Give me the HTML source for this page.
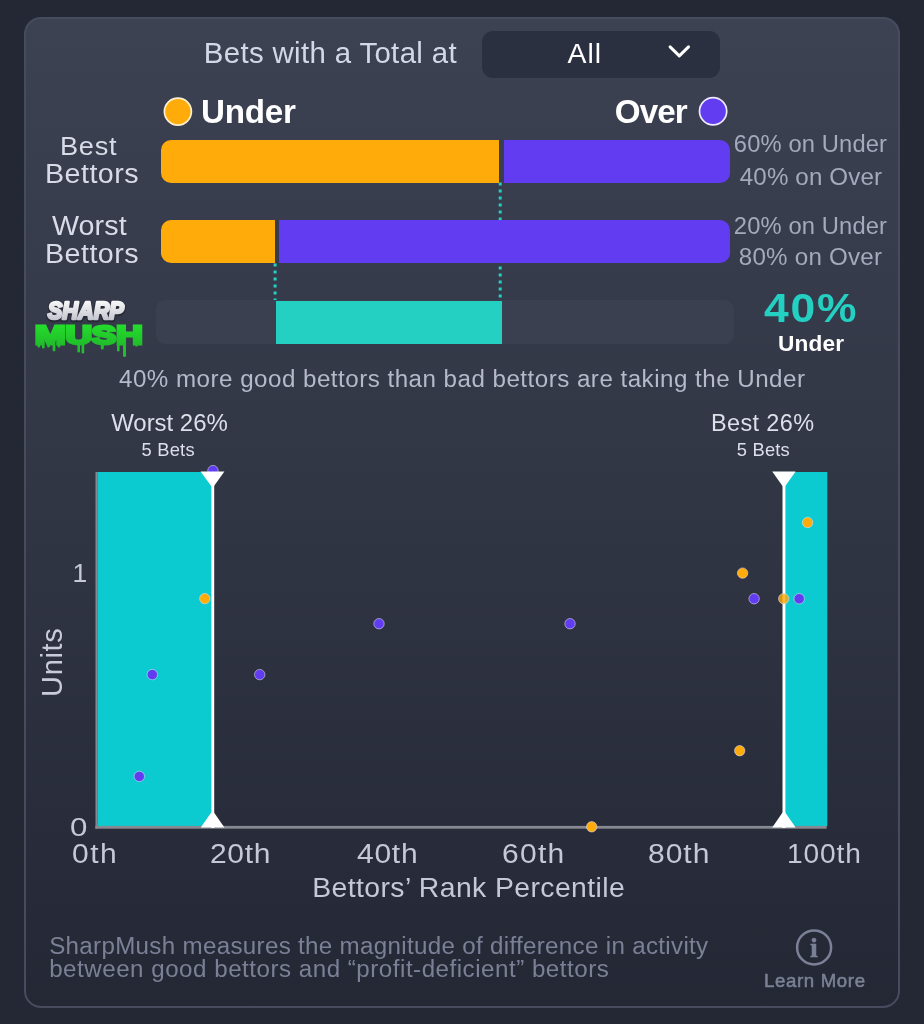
<!DOCTYPE html>
<html lang="en"><head><meta charset="utf-8"><title>SharpMush</title>
<style>
html,body{margin:0;padding:0}
body{width:924px;height:1024px;background:#242835;position:relative;overflow:hidden;font-family:"Liberation Sans",sans-serif}
.card{position:absolute;left:24px;top:17px;width:876px;height:991px;box-sizing:border-box;border:2px solid #464b5e;border-radius:17px;background:linear-gradient(180deg,#3d4253 0%,#242835 100%)}
.t{position:absolute;white-space:nowrap;margin:0}
.abs{position:absolute}
.dd{left:482px;top:31px;width:238px;height:47px;border-radius:11px;background:#2b3040}
.units{left:38px;top:696.5px;width:0;height:0;font-size:29px;line-height:29px;letter-spacing:0.7px;color:#c9ccd8;white-space:nowrap}
.units{transform:rotate(-90deg);transform-origin:0 0}
#t_lm{-webkit-text-stroke:0.55px #7b8096}

#t_head{left:203.80px;top:38.01px;font-size:29.4px;line-height:29.4px;color:#d4d7e6;font-weight:400;letter-spacing:0.350px}
#t_all{left:567.60px;top:38.63px;font-size:28.43px;line-height:28.43px;color:#ffffff;font-weight:400;letter-spacing:0.903px}
#t_under{left:201.00px;top:94.90px;font-size:33.2px;line-height:33.2px;color:#ffffff;font-weight:700;letter-spacing:-0.223px}
#t_over{left:614.80px;top:94.80px;font-size:33.2px;line-height:33.2px;color:#ffffff;font-weight:700;letter-spacing:-0.885px}
#t_best1{left:59.80px;top:133.36px;font-size:26.39px;line-height:26.39px;color:#d9dbe8;font-weight:400;letter-spacing:0.723px;transform:scaleX(1.03);transform-origin:0 0}
#t_best2{left:44.60px;top:160.19px;font-size:27.3px;line-height:27.3px;color:#d9dbe8;font-weight:400;letter-spacing:0.443px;transform:scaleX(1.05);transform-origin:0 0}
#t_worst1{left:52.00px;top:212.19px;font-size:27.3px;line-height:27.3px;color:#d9dbe8;font-weight:400;letter-spacing:0.067px;transform:scaleX(1.05);transform-origin:0 0}
#t_worst2{left:44.60px;top:240.39px;font-size:27.3px;line-height:27.3px;color:#d9dbe8;font-weight:400;letter-spacing:0.443px;transform:scaleX(1.05);transform-origin:0 0}
#t_r1{left:733.80px;top:133.30px;font-size:23.74px;line-height:23.74px;color:#a4a9bb;font-weight:400;letter-spacing:0.132px}
#t_r2{left:739.80px;top:165.26px;font-size:24.15px;line-height:24.15px;color:#a4a9bb;font-weight:400;letter-spacing:0.129px}
#t_r3{left:733.80px;top:215.40px;font-size:23.74px;line-height:23.74px;color:#a4a9bb;font-weight:400;letter-spacing:0.132px}
#t_r4{left:738.80px;top:244.86px;font-size:24.15px;line-height:24.15px;color:#a4a9bb;font-weight:400;letter-spacing:0.229px}
#t_pct{left:764.00px;top:287.60px;font-size:40.4px;line-height:40.4px;color:#23d0c2;font-weight:700;letter-spacing:1.578px;transform:scaleX(1.1);transform-origin:0 0}
#t_pctu{left:778.00px;top:331.51px;font-size:22.67px;line-height:22.67px;color:#ffffff;font-weight:700;letter-spacing:0.133px}
#t_cap{left:119.00px;top:367.36px;font-size:24.15px;line-height:24.15px;color:#b5b9c9;font-weight:400;letter-spacing:0.490px}
#t_w26{left:111.20px;top:411.09px;font-size:23.99px;line-height:23.99px;color:#dddfea;font-weight:400;letter-spacing:-0.032px}
#t_w5{left:141.60px;top:441.48px;font-size:18.34px;line-height:18.34px;color:#dddfea;font-weight:400;letter-spacing:0.206px}
#t_b26{left:711.00px;top:411.62px;font-size:23.48px;line-height:23.48px;color:#dddfea;font-weight:400;letter-spacing:0.364px}
#t_b5{left:736.80px;top:441.08px;font-size:18.34px;line-height:18.34px;color:#dddfea;font-weight:400;letter-spacing:0.206px}
#t_y1{left:72.40px;top:560.37px;font-size:26.5px;line-height:26.5px;color:#c5c8d5;font-weight:400;letter-spacing:0.000px}
#t_y0{left:69.60px;top:814.07px;font-size:26.5px;line-height:26.5px;color:#c5c8d5;font-weight:400;letter-spacing:0.000px;transform:scaleX(1.18);transform-origin:0 0}
#t_x0{left:72.20px;top:840.49px;font-size:27.3px;line-height:27.3px;color:#c5c8d5;font-weight:400;letter-spacing:1.387px;transform:scaleX(1.1);transform-origin:0 0}
#t_x20{left:210.20px;top:840.49px;font-size:27.3px;line-height:27.3px;color:#c5c8d5;font-weight:400;letter-spacing:0.589px;transform:scaleX(1.1);transform-origin:0 0}
#t_x40{left:357.00px;top:840.49px;font-size:27.3px;line-height:27.3px;color:#c5c8d5;font-weight:400;letter-spacing:0.650px;transform:scaleX(1.1);transform-origin:0 0}
#t_x60{left:502.00px;top:840.49px;font-size:27.3px;line-height:27.3px;color:#c5c8d5;font-weight:400;letter-spacing:1.135px;transform:scaleX(1.1);transform-origin:0 0}
#t_x80{left:647.80px;top:840.49px;font-size:27.3px;line-height:27.3px;color:#c5c8d5;font-weight:400;letter-spacing:0.893px;transform:scaleX(1.1);transform-origin:0 0}
#t_x100{left:787.00px;top:840.49px;font-size:27.3px;line-height:27.3px;color:#c5c8d5;font-weight:400;letter-spacing:0.834px;transform:scaleX(1.03);transform-origin:0 0}
#t_xl{left:312.20px;top:873.40px;font-size:28.35px;line-height:28.35px;color:#c5c8d5;font-weight:400;letter-spacing:0.417px}
#t_f1{left:49.20px;top:934.36px;font-size:24.15px;line-height:24.15px;color:#7b8096;font-weight:400;letter-spacing:0.316px}
#t_f2{left:49.20px;top:956.66px;font-size:24.15px;line-height:24.15px;color:#7b8096;font-weight:400;letter-spacing:0.510px}
#t_lm{left:764.00px;top:972.26px;font-size:18.6px;line-height:18.6px;color:#7b8096;font-weight:400;letter-spacing:0.656px}
</style></head>
<body>
<main class="card-wrap">
<div class="card"></div>

<header class="filter">
  <div class="t" id="t_head">Bets with a Total at</div>
  <div class="abs dd" role="button">
    <svg class="abs" style="left:182px;top:10px" width="30" height="22" viewBox="0 0 30 22"><path d="M6.1 5.9 L15.3 14.9 L24.5 5.9" fill="none" stroke="#ffffff" stroke-width="3" stroke-linecap="round" stroke-linejoin="round"/></svg>
  </div>
  <div class="t" id="t_all">All</div>
</header>

<section class="split">
  <div class="legend">
    <svg class="abs" style="left:150px;top:90px" width="600" height="44" viewBox="150 90 600 44">
      <circle cx="177.9" cy="111.6" r="13.5" fill="#ffab0a" stroke="#fff1d0" stroke-width="1.7"/>
      <circle cx="713.1" cy="111.3" r="13.6" fill="#613cf0" stroke="#eeeaff" stroke-width="1.7"/>
    </svg>
    <div class="t" id="t_under">Under</div>
    <div class="t" id="t_over">Over</div>
  </div>

  <svg class="abs" style="left:0;top:0" width="924" height="400" viewBox="0 0 924 400">
    <line x1="500.2" y1="182.4" x2="500.2" y2="300" stroke="#23d0c2" stroke-width="3" stroke-dasharray="3 4"/>
    <line x1="275.1" y1="263.4" x2="275.1" y2="316" stroke="#23d0c2" stroke-width="3" stroke-dasharray="3 4"/>
  </svg>

  <div class="row best">
    <div class="t" id="t_best1">Best</div>
    <div class="t" id="t_best2">Bettors</div>
    <div class="abs bar" style="left:161px;top:140px;width:338px;height:42.5px;background:#ffab0a;border-radius:10px 0 0 10px"></div>
    <div class="abs bar" style="left:503.5px;top:140px;width:226px;height:42.5px;background:#613cf0;border-radius:0 10px 10px 0"></div>
    <div class="t" id="t_r1">60% on Under</div>
    <div class="t" id="t_r2">40% on Over</div>
  </div>

  <div class="row worst">
    <div class="t" id="t_worst1">Worst</div>
    <div class="t" id="t_worst2">Bettors</div>
    <div class="abs bar" style="left:161px;top:220px;width:113.5px;height:43px;background:#ffab0a;border-radius:10px 0 0 10px"></div>
    <div class="abs bar" style="left:278.5px;top:220px;width:451px;height:43px;background:#613cf0;border-radius:0 10px 10px 0"></div>
    <div class="t" id="t_r3">20% on Under</div>
    <div class="t" id="t_r4">80% on Over</div>
  </div>

  <div class="row mush">
    <svg class="abs" style="left:30px;top:296px" width="120" height="66" viewBox="30 296 120 66">
      <defs>
        <linearGradient id="gs" x1="0" y1="0" x2="0" y2="1"><stop offset="0" stop-color="#ffffff"/><stop offset="1" stop-color="#b9bbc4"/></linearGradient>
        <linearGradient id="gm" x1="0" y1="0" x2="0" y2="1"><stop offset="0" stop-color="#25e52c"/><stop offset="1" stop-color="#1fb52a"/></linearGradient>
      </defs>
      <text x="47.8" y="320.4" font-family="Liberation Sans, sans-serif" font-weight="700" font-style="italic" font-size="23.2" fill="#262a36" stroke="#262a36" stroke-width="4.6" stroke-linejoin="round" textLength="76" lengthAdjust="spacingAndGlyphs" aria-hidden="true">SHARP</text>
      <text x="47.8" y="319.4" font-family="Liberation Sans, sans-serif" font-weight="700" font-style="italic" font-size="23.2" fill="url(#gs)" stroke="url(#gs)" stroke-width="2.6" stroke-linejoin="round" textLength="76" lengthAdjust="spacingAndGlyphs">SHARP</text>
      <g fill="#20c02b">
        <rect x="37.5" y="340" width="2.6" height="7.5" rx="1.3"/>
        <rect x="42" y="340" width="2.6" height="8.5" rx="1.3"/>
        <rect x="47.2" y="340" width="2.6" height="7.5" rx="1.3"/>
        <rect x="52.6" y="340" width="2.8" height="11.5" rx="1.4"/>
        <rect x="57.6" y="340" width="2.6" height="7.5" rx="1.3"/>
        <rect x="77.4" y="340" width="2.6" height="12.5" rx="1.3"/>
        <rect x="81.6" y="340" width="2.6" height="13.5" rx="1.3"/>
        <rect x="100.8" y="340" width="3" height="9.5" rx="1.5"/>
        <rect x="117" y="340" width="2.6" height="11.5" rx="1.3"/>
        <rect x="123" y="340" width="3" height="17" rx="1.5"/>
        <rect x="135" y="340" width="3" height="6.5" rx="1.5"/>
      </g>
      <text x="35" y="343.8" font-family="Liberation Sans, sans-serif" font-weight="700" font-size="26.4" fill="url(#gm)" stroke="url(#gm)" stroke-width="3" stroke-linejoin="miter" textLength="107.6" lengthAdjust="spacingAndGlyphs">MUSH</text>
    </svg>
    <div class="abs" style="left:156px;top:299.5px;width:578px;height:44.5px;background:#3b4051;border-radius:9px"></div>
    <div class="abs" style="left:275.8px;top:300.5px;width:226px;height:43.3px;background:#23d0c2"></div>
    <div class="t" id="t_pct">40%</div>
    <div class="t" id="t_pctu">Under</div>
  </div>

  <div class="t" id="t_cap">40% more good bettors than bad bettors are taking the Under</div>
</section>

<section class="chart">
  <div class="t" id="t_w26">Worst 26%</div>
  <div class="t" id="t_w5">5 Bets</div>
  <div class="t" id="t_b26">Best 26%</div>
  <div class="t" id="t_b5">5 Bets</div>
  <svg class="abs" style="left:0;top:440px" width="924" height="420" viewBox="0 440 924 420">
    <rect x="97.4" y="472" width="114.2" height="354.2" fill="#0ccbd0"/>
    <rect x="785" y="472" width="42.3" height="354.2" fill="#0ccbd0"/>
    <rect x="95.5" y="472" width="2" height="356.7" fill="#868991"/>
    <rect x="95.3" y="825.9" width="731.4" height="2.8" fill="#868991"/>
    <rect x="211.3" y="472" width="2.9" height="356" fill="#ffffff"/>
    <rect x="782.5" y="472" width="2.9" height="356" fill="#ffffff"/>
    <circle cx="213" cy="470.6" r="5.2" fill="#613cf0" stroke="rgba(225,225,245,0.55)" stroke-width="1"/>
    <path d="M200.6 471.6 H224.4 L212.6 488 Z" fill="#ffffff"/>
    <path d="M772.2 471.6 H795.6 L783.9 488 Z" fill="#ffffff"/>
    <path d="M200.8 827.4 H224.4 L212.6 810.4 Z" fill="#ffffff"/>
    <path d="M772.2 827.4 H795.6 L783.9 810.4 Z" fill="#ffffff"/>
    <g stroke="rgba(225,225,245,0.55)" stroke-width="1">
      <g fill="#613cf0">
        <circle cx="139.3" cy="776.4" r="5.2"/>
        <circle cx="152.3" cy="674.6" r="5.2"/>
        <circle cx="259.7" cy="674.6" r="5.2"/>
        <circle cx="379" cy="623.7" r="5.2"/>
        <circle cx="570" cy="623.7" r="5.2"/>
        <circle cx="754.1" cy="598.7" r="5.2"/>
        <circle cx="799.2" cy="598.7" r="5.2"/>
      </g>
      <g fill="#ffab0a">
        <circle cx="204.8" cy="598.6" r="5.2"/>
        <circle cx="742.6" cy="573.1" r="5.2"/>
        <circle cx="783.7" cy="598.7" r="5.2" fill-opacity="0.82"/>
        <circle cx="807.6" cy="522.5" r="5.2"/>
        <circle cx="739.7" cy="750.7" r="5.2"/>
        <circle cx="591.7" cy="826.8" r="5.2"/>
      </g>
    </g>
  </svg>
  <div class="t" id="t_y1">1</div>
  <div class="t" id="t_y0">0</div>
  <div class="abs units">Units</div>
  <div class="t" id="t_x0">0th</div>
  <div class="t" id="t_x20">20th</div>
  <div class="t" id="t_x40">40th</div>
  <div class="t" id="t_x60">60th</div>
  <div class="t" id="t_x80">80th</div>
  <div class="t" id="t_x100">100th</div>
  <div class="t" id="t_xl">Bettors’ Rank Percentile</div>
</section>

<footer class="about">
  <div class="t" id="t_f1">SharpMush measures the magnitude of difference in activity</div>
  <div class="t" id="t_f2">between good bettors and “profit-deficient” bettors</div>
  <a class="learn">
    <svg class="abs" style="left:792px;top:925px" width="44" height="44" viewBox="0 0 44 44">
      <circle cx="22.1" cy="22.4" r="17" fill="none" stroke="#7b8096" stroke-width="2.5"/>
      <text x="22" y="31.6" text-anchor="middle" font-family="Liberation Serif, serif" font-weight="700" font-size="28" fill="#7b8096" stroke="#7b8096" stroke-width="0.5">i</text>
    </svg>
    <div class="t" id="t_lm">Learn More</div>
  </a>
</footer>
</main>

</body></html>
